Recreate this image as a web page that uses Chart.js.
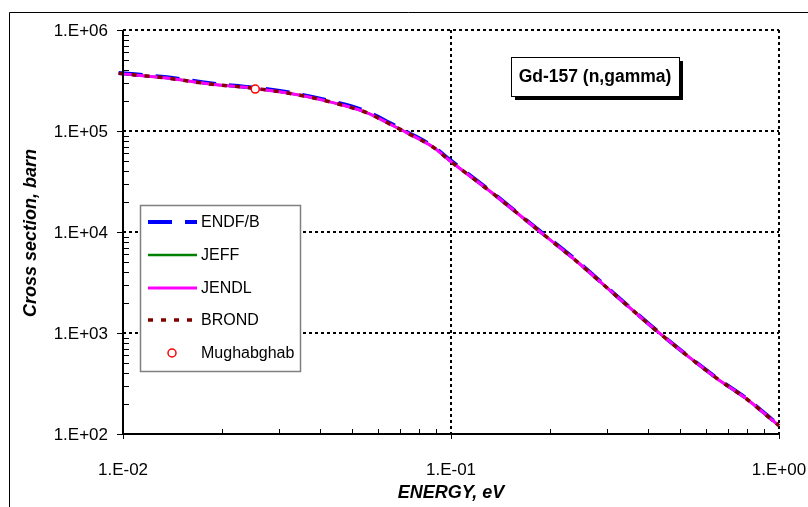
<!DOCTYPE html>
<html>
<head>
<meta charset="utf-8">
<script src="https://cdn.jsdelivr.net/npm/chart.js@4/dist/chart.umd.min.js"></script>
<style>
  html, body { margin: 0; padding: 0; background: #fff; overflow: hidden; }
  #wrap { position: relative; width: 808px; height: 507px; }
</style>
</head>
<body>
<div id="wrap"><canvas id="c" width="808" height="507"></canvas></div>
<script>
// Gd-157 (n,gamma) capture cross section, barn, vs neutron energy, eV
const energy = [0.0097, 0.0136, 0.0184, 0.0253, 0.0347, 0.0437, 0.0553, 0.0651, 0.0733, 0.0883, 0.0990,
                0.1315, 0.1866, 0.239, 0.313, 0.434, 0.645, 0.797, 1.0, 1.035];
const endfb = [3.76e5, 3.40e5, 2.97e5, 2.68e5, 2.30e5, 1.95e5, 1.56e5, 1.20e5, 9.80e4, 7.0e4, 5.2e4,
               2.56e4, 1.02e4, 5.35e3, 2.48e3, 990, 360, 224, 122, 112];
const jeff  = [3.72e5, 3.34e5, 2.92e5, 2.64e5, 2.26e5, 1.91e5, 1.52e5, 1.17e5, 9.62e4, 6.9e4, 5.1e4,
               2.53e4, 1.01e4, 5.28e3, 2.46e3, 984, 357, 222, 121, 111];
const jendl = [3.72e5, 3.34e5, 2.92e5, 2.64e5, 2.26e5, 1.91e5, 1.52e5, 1.17e5, 9.62e4, 6.9e4, 5.1e4,
               2.53e4, 1.01e4, 5.28e3, 2.46e3, 984, 357, 222, 121, 111];
const brond = [3.72e5, 3.34e5, 2.92e5, 2.64e5, 2.26e5, 1.91e5, 1.52e5, 1.17e5, 9.62e4, 6.9e4, 5.1e4,
               2.53e4, 1.01e4, 5.28e3, 2.46e3, 984, 357, 222, 121, 111];
const mughabghabE  = [0.0253];
const mughabghabXS = [2.6e5];

const seriesNames = ['ENDF/B', 'JEFF', 'JENDL', 'BROND', 'Mughabghab'];
const xTickValues = [0.01, 0.1, 1];
const xTickLabels = ['1.E-02', '1.E-01', '1.E+00'];
const yTickValues = [1e2, 1e3, 1e4, 1e5, 1e6];
const yTickLabels = ['1.E+02', '1.E+03', '1.E+04', '1.E+05', '1.E+06'];
const chartTitle = 'Gd-157 (n,gamma)';
const xTitle = 'ENERGY, eV';
const yTitle = 'Cross section, barn';

const FONT = '"Liberation Sans", Arial, sans-serif';

const styles = [
  { color: '#0000FF', width: 4,   dash: [24, 13] },
  { color: '#008000', width: 2.5, dash: [] },
  { color: '#FF00FF', width: 3,   dash: [] },
  { color: '#800000', width: 3.5, dash: [5, 8] }
];

function pts(xs, ys) { return xs.map((x, i) => ({ x: x, y: ys[i] })); }

const lineSets = [endfb, jeff, jendl, brond].map((vals, i) => ({
  label: seriesNames[i],
  data: pts(energy, vals),
  showLine: true,
  borderColor: styles[i].color,
  backgroundColor: styles[i].color,
  borderWidth: styles[i].width,
  borderDash: styles[i].dash,
  borderCapStyle: 'butt',
  pointRadius: 0,
  fill: false,
  cubicInterpolationMode: 'monotone',
  clip: false,
  order: 4 - i
}));

const markerSet = {
  label: seriesNames[4],
  data: pts(mughabghabE, mughabghabXS),
  showLine: false,
  pointStyle: 'circle',
  pointRadius: 4,
  pointBorderWidth: 1.5,
  pointBorderColor: '#FF0000',
  pointBackgroundColor: '#FFFFFF',
  order: 0
};

function line(ctx, x1, y1, x2, y2) {
  ctx.beginPath(); ctx.moveTo(x1, y1); ctx.lineTo(x2, y2); ctx.stroke();
}

const decorations = {
  id: 'decorations',
  beforeDraw(chart) {
    const ctx = chart.ctx;
    ctx.save();
    ctx.fillStyle = '#fff';
    ctx.fillRect(0, 0, chart.width, chart.height);
    // outer frame
    ctx.strokeStyle = '#000'; ctx.lineWidth = 1;
    ctx.beginPath(); ctx.moveTo(9.5, chart.height); ctx.lineTo(9.5, 12.5); ctx.lineTo(chart.width, 12.5); ctx.stroke();
    ctx.restore();
  },
  beforeDatasetsDraw(chart) {
    const { ctx, chartArea: a, scales: { x, y } } = chart;
    ctx.save();
    ctx.strokeStyle = '#000'; ctx.lineWidth = 2; ctx.setLineDash([3, 3]);
    yTickValues.slice(1).forEach(v => {
      const py = Math.round(y.getPixelForValue(v));
      line(ctx, a.left, py, a.right, py);
    });
    xTickValues.slice(1).forEach(v => {
      const px = Math.round(x.getPixelForValue(v));
      line(ctx, px, a.top, px, a.bottom);
    });
    ctx.restore();
  },
  afterDatasetsDraw(chart) {
    const { ctx, chartArea: a, scales: { x, y } } = chart;
    const left = Math.round(a.left), bottom = Math.round(a.bottom);
    ctx.save();
    ctx.strokeStyle = '#000'; ctx.lineWidth = 2; ctx.setLineDash([]);
    // axes
    line(ctx, left, a.top, left, bottom + 1);
    line(ctx, left - 1, bottom, a.right, bottom);
    ctx.lineWidth = 1;
    // y ticks: majors outside, minors inside
    for (let d = 2; d < 6; d++) {
      for (let m = 2; m <= 9; m++) {
        const py = Math.round(y.getPixelForValue(m * Math.pow(10, d))) + 0.5;
        line(ctx, left, py, left + 6, py);
      }
    }
    yTickValues.forEach(v => {
      const py = Math.round(y.getPixelForValue(v)) + 0.5;
      line(ctx, left - 6, py, left, py);
    });
    // x ticks
    for (let d = -2; d < 0; d++) {
      for (let m = 2; m <= 9; m++) {
        const px = Math.round(x.getPixelForValue(m * Math.pow(10, d))) + 0.5;
        line(ctx, px, bottom - 5, px, bottom);
      }
    }
    xTickValues.forEach(v => {
      const px = Math.round(x.getPixelForValue(v)) + 0.5;
      line(ctx, px, bottom, px, bottom + 5);
    });
    // tick labels
    ctx.fillStyle = '#000';
    ctx.font = '17px ' + FONT;
    ctx.textAlign = 'right'; ctx.textBaseline = 'middle';
    yTickValues.forEach((v, i) => ctx.fillText(yTickLabels[i], left - 15, y.getPixelForValue(v) + 1));
    ctx.textAlign = 'center';
    xTickValues.forEach((v, i) => ctx.fillText(xTickLabels[i], x.getPixelForValue(v), 470));
    // axis titles
    ctx.font = 'italic bold 18px ' + FONT;
    ctx.fillText(xTitle, 451, 493);
    ctx.save();
    ctx.translate(31, 233);
    ctx.rotate(-Math.PI / 2);
    ctx.fillText(yTitle, 0, 0);
    ctx.restore();
    ctx.restore();
  },
  afterDraw(chart) {
    const ctx = chart.ctx;
    ctx.save();
    // legend
    ctx.fillStyle = '#fff';
    ctx.fillRect(140.5, 205.5, 160, 166);
    ctx.strokeStyle = '#808080'; ctx.lineWidth = 1.5;
    ctx.strokeRect(140.5, 205.5, 160, 166);
    const rows = [222, 255, 288, 320, 353];
    ctx.font = '16px ' + FONT;
    ctx.textAlign = 'left'; ctx.textBaseline = 'middle';
    styles.forEach((s, i) => {
      ctx.strokeStyle = s.color; ctx.lineWidth = s.width; ctx.setLineDash(s.dash); ctx.lineCap = 'butt';
      line(ctx, 148, rows[i], 197, rows[i]);
      ctx.setLineDash([]);
      ctx.fillStyle = '#000';
      ctx.fillText(seriesNames[i], 201, rows[i] + 1);
    });
    ctx.beginPath();
    ctx.arc(172, rows[4], 4, 0, Math.PI * 2);
    ctx.fillStyle = '#fff'; ctx.fill();
    ctx.strokeStyle = '#FF0000'; ctx.lineWidth = 1.5; ctx.stroke();
    ctx.fillStyle = '#000';
    ctx.fillText(seriesNames[4], 201, rows[4] + 1);
    // title box with drop shadow
    const bx = 511, by = 57, bw = 168, bh = 39;
    ctx.fillStyle = '#000';
    ctx.fillRect(bx + 4, by + 4, bw, bh);
    ctx.fillStyle = '#fff';
    ctx.fillRect(bx, by, bw, bh);
    ctx.strokeStyle = '#000'; ctx.lineWidth = 1;
    ctx.strokeRect(bx + 0.5, by + 0.5, bw, bh);
    ctx.fillStyle = '#000';
    ctx.font = 'bold 17.5px ' + FONT;
    ctx.textAlign = 'center';
    ctx.fillText(chartTitle, bx + bw / 2, by + bh / 2 + 1);
    ctx.restore();
  }
};

new Chart(document.getElementById('c'), {
  type: 'scatter',
  data: { datasets: [...lineSets, markerSet] },
  options: {
    responsive: false,
    animation: false,
    devicePixelRatio: 1,
    layout: { padding: { left: 123, top: 30, right: 29, bottom: 73 } },
    scales: {
      x: { type: 'logarithmic', min: 0.01, max: 1, display: false },
      y: { type: 'logarithmic', min: 100, max: 1e6, display: false }
    },
    plugins: { legend: { display: false }, tooltip: { enabled: false } }
  },
  plugins: [decorations]
});
</script>
</body>
</html>
